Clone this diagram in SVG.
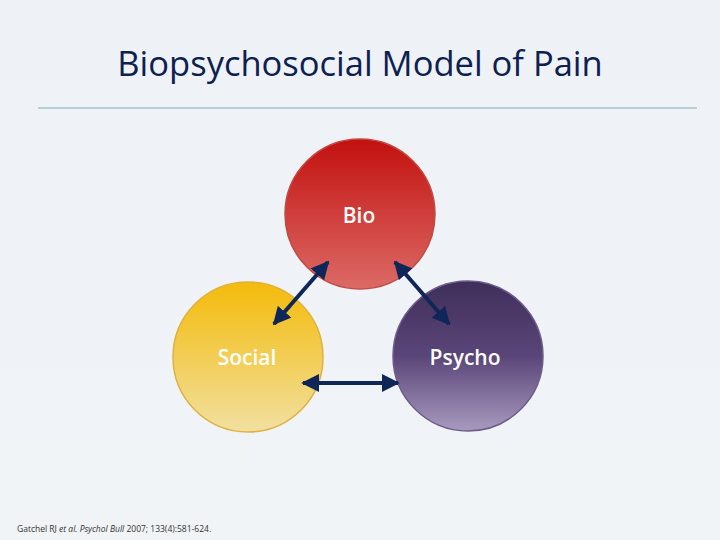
<svg xmlns="http://www.w3.org/2000/svg" width="720" height="540" viewBox="0 0 720 540">
<defs>
<linearGradient id="bg" x1="0" y1="0" x2="0" y2="1"><stop offset="0" stop-color="#eef2f6"/><stop offset="1" stop-color="#f1f4f7"/></linearGradient>
<linearGradient id="gBio" x1="0" y1="0" x2="0" y2="1"><stop offset="0" stop-color="#c2110f"/><stop offset="1" stop-color="#dc6a66"/></linearGradient>
<linearGradient id="gSoc" x1="0" y1="0" x2="0" y2="1"><stop offset="0" stop-color="#f4bb0a"/><stop offset="1" stop-color="#f1e0a0"/></linearGradient>
<linearGradient id="gPsy" x1="0" y1="0" x2="0" y2="1"><stop offset="0" stop-color="#3f2e5a"/><stop offset="0.5" stop-color="#5a4578"/><stop offset="1" stop-color="#a89abf"/></linearGradient>
<marker id="ah" viewBox="0 0 10 10" refX="9" refY="5" markerWidth="4.5" markerHeight="4.5" orient="auto-start-reverse" markerUnits="strokeWidth"><path d="M0,0 L10,5 L0,10 z" fill="#0f2658"/></marker>
<style>
.lbl{font-family:"Open Sans","Liberation Sans",sans-serif;font-size:21px;font-weight:600;fill:#ffffff;text-anchor:middle;}
.conn{stroke:#0f2658;stroke-width:4;fill:none;marker-start:url(#ah);marker-end:url(#ah);}
</style>
</defs>
<rect width="720" height="540" fill="url(#bg)"/>
<text x="360" y="76" font-family="'Open Sans','Liberation Sans',sans-serif" font-size="34.5" fill="#0d2150" text-anchor="middle">Biopsychosocial Model of Pain</text>
<line x1="38" y1="108" x2="697" y2="108" stroke="#9fc4d2" stroke-width="1.5"/>
<g id="bio"><circle cx="360" cy="214" r="75" fill="url(#gBio)" stroke="#c04a45" stroke-width="1.5"/><text class="lbl" x="359" y="223">Bio</text></g>
<g id="social"><circle cx="248" cy="357" r="75" fill="url(#gSoc)" stroke="#e0b040" stroke-width="1.5"/><text class="lbl" x="247" y="365">Social</text></g>
<g id="psycho"><circle cx="468" cy="356" r="75" fill="url(#gPsy)" stroke="#6e5c8a" stroke-width="1.5"/><text class="lbl" x="465" y="365">Psycho</text></g>
<g id="connectors">
<line class="conn" x1="328" y1="262" x2="274" y2="324"/>
<line class="conn" x1="395" y1="262" x2="449" y2="324"/>
<line class="conn" x1="303" y1="383" x2="398" y2="383"/>
</g>
<text x="17" y="532" font-family="'Open Sans','Liberation Sans',sans-serif" font-size="8.5" fill="#333">Gatchel RJ <tspan font-style="italic">et al. Psychol Bull</tspan> 2007; 133(4):581-624.</text>
</svg>
